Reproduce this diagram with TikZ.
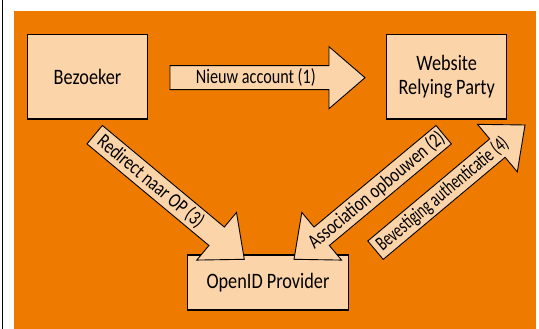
\documentclass[tikz,border=0pt]{standalone}
\usepackage{fontspec}
\setmainfont{Carlito}[FakeStretch=0.79]
\newfontfamily\boxfont{Carlito}[FakeStretch=0.83]
\newfontfamily\narrowfont{Carlito}[FakeStretch=0.7]
\usetikzlibrary{calc}
\definecolor{bgorange}{RGB}{238,123,0}
\definecolor{peach}{RGB}{252,212,170}

% block arrow from #2 (tail centre) to #3 (tip), label #4 at position #1 along the shaft
\newcommand\blockarrow[4][0.5]{%
  \path ($(#3)!36pt!(#2)$) coordinate (hb);
  \draw[arrowbody]
    ($(#2)!12pt!90:(#3)$) -- ($(hb)!12pt!90:(#3)$) -- ($(hb)!31pt!90:(#3)$) --
    (#3) --
    ($(hb)!31pt!-90:(#3)$) -- ($(hb)!12pt!-90:(#3)$) -- ($(#2)!12pt!-90:(#3)$) -- cycle;
  \path (#2) -- (hb) node[pos=#1, sloped, lbl] {#4};
}

\begin{document}
\begin{tikzpicture}[x=1pt, y=-1pt,
  box/.style={draw=black, line width=1.1pt, fill=peach, inner sep=0pt,
    font=\boxfont\fontsize{22}{23.5}\selectfont},
  arrowbody/.style={draw=black, line width=0.9pt, fill=peach, line join=miter},
  lbl/.style={font=\fontsize{20.5}{22}\selectfont, text=black, inner sep=0pt}]
\useasboundingbox (0,0) rectangle (539,329);
\fill[white] (0,0) rectangle (539,329);
\draw[line width=1pt] (2.7,0) -- (2.7,329);
\fill[bgorange] (14,11) rectangle (536,329);

% parties
\node[box, minimum width=119.6pt, minimum height=84.7pt] (bez) at (87.5,76.7) {Bezoeker};
\node[box, minimum width=120pt, minimum height=84.7pt, align=center] (rp) at (446.7,76.7) {Website\\Relying Party};
\node[box, minimum width=161.4pt, minimum height=55pt] (op) at (268,282.5) {OpenID Provider};

% arrow ends
\coordinate (a1) at (170,77.7);   \coordinate (b1) at (365,77.7);
\coordinate (a3) at (94.7,134.7); \coordinate (b3) at (244.3,259.3);
\coordinate (a2) at (443.7,134.7); \coordinate (b2) at (294,259.3);
\coordinate (a4) at (375.5,250.2); \coordinate (b4) at (525,125);

% messages
\blockarrow[0.54]{a1}{b1}{Nieuw account (1)}
\blockarrow[0.46]{a3}{b3}{Redirect naar OP (3)}
\blockarrow[0.55]{a2}{b2}{Association opbouwen (2)}
\blockarrow[0.55]{a4}{b4}{\narrowfont Bevestiging authenticatie (4)}
\end{tikzpicture}
\end{document}
